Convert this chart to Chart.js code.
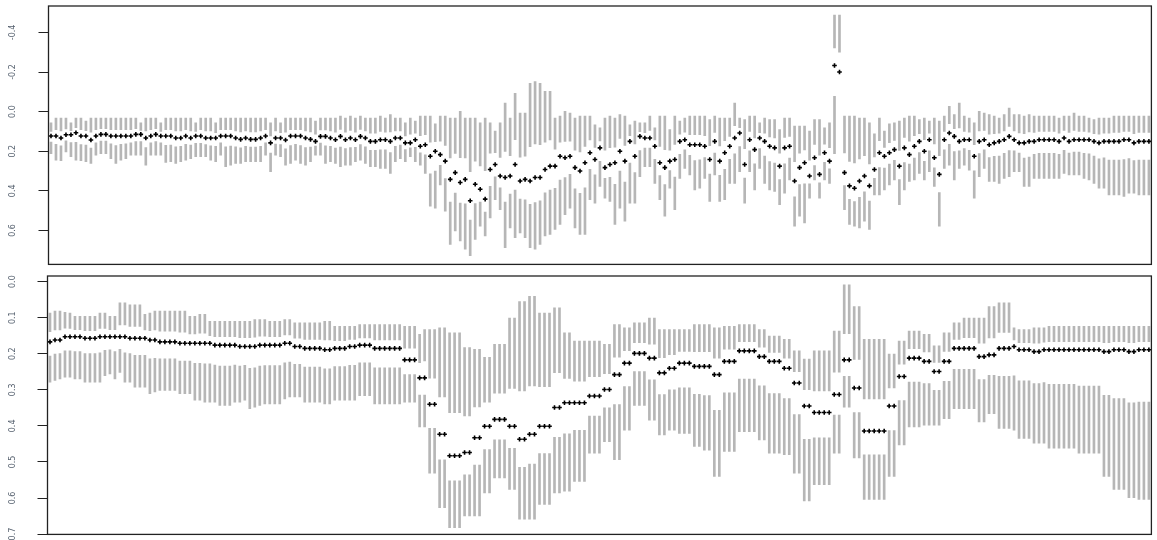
<!DOCTYPE html>
<html>
<head>
<meta charset="utf-8">
<script src="https://cdn.jsdelivr.net/npm/chart.js@4.4.1/dist/chart.umd.min.js"></script>
<style>
  html, body { margin: 0; padding: 0; background: #fff; }
  canvas { display: block; }
</style>
</head>
<body>
<canvas id="top-panel" width="1157" height="270"></canvas>
<canvas id="bottom-panel" width="1157" height="270"></canvas>
<script>
// upper panel: estimate with outer interval (hi = upper end, lo = lower end; axis is reversed)
const topEst = [
  0.123,0.123,0.133,0.117,0.117,0.107,0.123,0.123,0.143,0.123,
  0.115,0.115,0.123,0.123,0.123,0.123,0.123,0.115,0.115,0.133,
  0.123,0.115,0.123,0.123,0.123,0.133,0.133,0.123,0.133,0.123,
  0.123,0.133,0.133,0.133,0.123,0.123,0.123,0.133,0.14,0.133,
  0.14,0.14,0.133,0.123,0.158,0.133,0.133,0.143,0.123,0.123,
  0.123,0.133,0.14,0.15,0.125,0.125,0.133,0.142,0.125,0.142,
  0.133,0.142,0.125,0.133,0.15,0.15,0.142,0.142,0.15,0.133,
  0.133,0.158,0.158,0.142,0.175,0.167,0.225,0.2,0.217,0.25,
  0.342,0.308,0.358,0.342,0.45,0.367,0.392,0.442,0.292,0.267,
  0.325,0.333,0.325,0.267,0.35,0.342,0.35,0.333,0.333,0.292,
  0.275,0.275,0.225,0.233,0.225,0.283,0.3,0.258,0.208,0.242,
  0.183,0.283,0.267,0.258,0.2,0.25,0.15,0.225,0.125,0.133,
  0.133,0.175,0.258,0.283,0.25,0.242,0.15,0.142,0.167,0.167,
  0.167,0.175,0.242,0.15,0.25,0.208,0.175,0.133,0.108,0.267,
  0.142,0.192,0.133,0.15,0.175,0.183,0.275,0.183,0.175,0.35,
  0.283,0.258,0.325,0.233,0.317,0.208,0.25,-0.233,-0.2,0.308,
  0.375,0.387,0.35,0.325,0.375,0.292,0.208,0.225,0.208,0.192,
  0.275,0.183,0.217,0.175,0.15,0.2,0.142,0.233,0.317,0.142,
  0.108,0.125,0.15,0.142,0.142,0.225,0.15,0.142,0.167,0.158,
  0.15,0.142,0.125,0.142,0.158,0.158,0.15,0.15,0.142,0.142,
  0.142,0.142,0.15,0.133,0.15,0.142,0.142,0.142,0.142,0.15,
  0.158,0.15,0.15,0.15,0.15,0.142,0.142,0.158,0.15,0.15,0.15
];
const topHi = [
  0.057,0.032,0.032,0.032,0.057,0.032,0.032,0.048,0.032,0.032,
  0.032,0.032,0.032,0.032,0.032,0.032,0.032,0.032,0.057,0.032,
  0.032,0.032,0.057,0.032,0.032,0.032,0.032,0.032,0.032,0.057,
  0.032,0.032,0.032,0.057,0.032,0.032,0.032,0.032,0.032,0.032,
  0.032,0.032,0.032,0.032,0.057,0.032,0.057,0.032,0.032,0.032,
  0.032,0.032,0.032,0.048,0.032,0.032,0.032,0.032,0.023,0.032,
  0.023,0.032,0.023,0.032,0.032,0.032,0.023,0.032,0.015,0.032,
  0.032,0.057,0.032,0.048,0.023,0.023,0.023,0.062,0.023,0.023,
  0.032,0.032,-0.002,0.032,0.032,0.032,0.057,0.032,0.057,0.098,
  0.057,-0.043,0.032,-0.093,0.007,0.007,-0.143,-0.152,-0.143,-0.102,
  -0.102,0.032,0.023,-0.002,0.007,0.032,0.023,0.023,0.023,0.067,
  0.082,0.032,0.023,0.032,0.015,0.023,0.067,0.048,0.057,0.057,
  0.023,0.082,0.023,0.023,0.09,0.023,0.048,0.032,0.023,0.023,
  0.023,0.023,0.04,0.023,0.032,0.032,0.032,-0.043,0.032,0.04,
  0.023,0.023,0.057,0.032,0.04,0.04,0.09,0.032,0.032,0.073,
  0.073,0.073,0.098,0.04,0.04,0.082,0.057,-0.488,-0.488,0.023,
  0.023,0.023,0.032,0.032,0.057,0.112,0.032,0.098,0.062,0.057,
  0.048,0.032,0.023,0.023,0.04,0.032,0.048,0.032,0.048,0.023,
  -0.027,0.015,-0.043,0.023,0.032,0.057,-0.002,0.007,0.015,0.023,
  0.032,0.015,-0.018,0.015,0.015,0.023,0.015,0.023,0.023,0.023,
  0.023,0.023,0.032,0.023,0.023,0.007,0.023,0.023,0.032,0.04,
  0.032,0.032,0.032,0.023,0.023,0.023,0.023,0.023,0.023,0.023,0.023
];
const topLo = [
  0.212,0.245,0.248,0.203,0.228,0.245,0.248,0.253,0.262,0.22,
  0.212,0.212,0.237,0.262,0.245,0.237,0.22,0.22,0.22,0.27,
  0.22,0.22,0.22,0.257,0.253,0.262,0.253,0.245,0.237,0.228,
  0.228,0.228,0.245,0.253,0.22,0.278,0.27,0.262,0.262,0.253,
  0.253,0.253,0.253,0.22,0.303,0.22,0.228,0.27,0.262,0.245,
  0.262,0.27,0.253,0.22,0.22,0.262,0.253,0.262,0.278,0.27,
  0.27,0.253,0.245,0.262,0.278,0.278,0.287,0.287,0.312,0.253,
  0.237,0.253,0.228,0.253,0.27,0.312,0.478,0.487,0.37,0.503,
  0.67,0.603,0.653,0.695,0.728,0.645,0.578,0.628,0.537,0.445,
  0.495,0.687,0.587,0.637,0.612,0.637,0.687,0.695,0.67,0.628,
  0.62,0.595,0.57,0.52,0.487,0.587,0.62,0.62,0.445,0.462,
  0.378,0.437,0.453,0.57,0.487,0.553,0.462,0.462,0.328,0.278,
  0.278,0.362,0.445,0.528,0.387,0.495,0.337,0.287,0.32,0.395,
  0.387,0.337,0.453,0.32,0.453,0.445,0.362,0.362,0.303,0.462,
  0.303,0.395,0.287,0.362,0.395,0.403,0.47,0.412,0.345,0.578,
  0.528,0.562,0.437,0.345,0.437,0.345,0.362,0.212,-0.2,0.495,
  0.57,0.578,0.587,0.553,0.595,0.42,0.42,0.395,0.37,0.345,
  0.47,0.395,0.353,0.345,0.312,0.345,0.303,0.378,0.578,0.287,
  0.27,0.345,0.287,0.27,0.295,0.437,0.328,0.287,0.353,0.353,
  0.362,0.337,0.328,0.303,0.303,0.378,0.378,0.337,0.337,0.337,
  0.337,0.337,0.337,0.312,0.32,0.32,0.32,0.337,0.345,0.362,
  0.387,0.387,0.42,0.42,0.42,0.428,0.412,0.412,0.42,0.42,0.42
];

// lower panel
const botEst = [
  0.167,0.162,0.162,0.153,0.153,0.153,0.153,0.157,0.157,0.157,
  0.153,0.153,0.153,0.153,0.153,0.153,0.157,0.157,0.157,0.157,
  0.162,0.162,0.167,0.167,0.167,0.167,0.171,0.171,0.171,0.171,
  0.171,0.171,0.171,0.176,0.176,0.176,0.176,0.176,0.18,0.18,
  0.18,0.18,0.176,0.176,0.176,0.176,0.176,0.171,0.171,0.18,
  0.18,0.185,0.185,0.185,0.185,0.189,0.189,0.185,0.185,0.185,
  0.18,0.18,0.176,0.176,0.176,0.185,0.185,0.185,0.185,0.185,
  0.185,0.217,0.217,0.217,0.267,0.267,0.34,0.34,0.423,0.423,
  0.483,0.483,0.483,0.474,0.474,0.433,0.433,0.401,0.401,0.382,
  0.382,0.382,0.401,0.401,0.437,0.437,0.423,0.423,0.401,0.401,
  0.401,0.349,0.349,0.336,0.336,0.336,0.336,0.336,0.317,0.317,
  0.317,0.299,0.299,0.258,0.258,0.226,0.226,0.199,0.199,0.199,
  0.212,0.212,0.253,0.253,0.24,0.24,0.226,0.226,0.226,0.235,
  0.235,0.235,0.235,0.258,0.258,0.221,0.221,0.221,0.192,0.192,
  0.192,0.192,0.208,0.208,0.221,0.221,0.221,0.24,0.24,0.281,
  0.281,0.345,0.345,0.363,0.363,0.363,0.363,0.313,0.313,0.217,
  0.217,0.295,0.295,0.414,0.414,0.414,0.414,0.414,0.345,0.345,
  0.263,0.263,0.212,0.212,0.212,0.221,0.221,0.249,0.249,0.221,
  0.221,0.185,0.185,0.185,0.185,0.185,0.208,0.208,0.203,0.203,
  0.185,0.185,0.185,0.18,0.189,0.189,0.189,0.194,0.194,0.189,
  0.189,0.189,0.189,0.189,0.189,0.189,0.189,0.189,0.189,0.189,
  0.189,0.194,0.194,0.189,0.189,0.189,0.194,0.194,0.189,0.189,0.189
];
const botHi = [
  0.087,0.082,0.082,0.085,0.087,0.096,0.096,0.096,0.096,0.096,
  0.087,0.087,0.096,0.096,0.059,0.059,0.064,0.064,0.064,0.091,
  0.087,0.082,0.082,0.082,0.082,0.082,0.082,0.082,0.096,0.096,
  0.091,0.091,0.11,0.11,0.11,0.11,0.11,0.11,0.11,0.11,
  0.11,0.105,0.105,0.105,0.11,0.11,0.11,0.105,0.105,0.114,
  0.114,0.114,0.114,0.114,0.114,0.11,0.11,0.124,0.124,0.124,
  0.124,0.124,0.119,0.119,0.119,0.119,0.119,0.119,0.119,0.119,
  0.119,0.124,0.124,0.124,0.146,0.133,0.133,0.133,0.128,0.128,
  0.142,0.142,0.142,0.183,0.183,0.188,0.188,0.21,0.21,0.174,
  0.174,0.174,0.101,0.101,0.055,0.055,0.041,0.041,0.087,0.087,
  0.087,0.073,0.073,0.142,0.142,0.165,0.165,0.165,0.165,0.165,
  0.165,0.174,0.174,0.119,0.119,0.128,0.128,0.114,0.114,0.114,
  0.101,0.101,0.133,0.133,0.133,0.133,0.133,0.133,0.133,0.119,
  0.119,0.119,0.119,0.128,0.128,0.124,0.124,0.124,0.119,0.119,
  0.119,0.119,0.133,0.133,0.151,0.151,0.151,0.16,0.16,0.192,
  0.192,0.215,0.215,0.192,0.192,0.192,0.192,0.137,0.137,0.009,
  0.009,0.069,0.069,0.16,0.16,0.16,0.16,0.16,0.201,0.201,
  0.165,0.165,0.137,0.137,0.137,0.146,0.146,0.178,0.178,0.142,
  0.142,0.114,0.114,0.101,0.101,0.101,0.101,0.101,0.069,0.069,
  0.059,0.059,0.059,0.128,0.133,0.133,0.133,0.128,0.128,0.128,
  0.124,0.124,0.124,0.124,0.124,0.124,0.124,0.124,0.124,0.124,
  0.124,0.124,0.124,0.124,0.124,0.124,0.124,0.124,0.124,0.124,0.124
];
const botLo = [
  0.279,0.274,0.27,0.265,0.265,0.27,0.27,0.279,0.279,0.279,
  0.279,0.261,0.256,0.27,0.252,0.279,0.279,0.293,0.293,0.293,
  0.311,0.306,0.302,0.302,0.302,0.302,0.311,0.311,0.311,0.329,
  0.329,0.334,0.334,0.334,0.343,0.343,0.343,0.334,0.334,0.329,
  0.352,0.348,0.343,0.339,0.339,0.339,0.339,0.325,0.32,0.32,
  0.32,0.334,0.334,0.334,0.334,0.339,0.339,0.329,0.329,0.329,
  0.329,0.329,0.316,0.316,0.316,0.339,0.339,0.339,0.339,0.339,
  0.339,0.334,0.334,0.334,0.403,0.403,0.531,0.531,0.627,0.627,
  0.682,0.682,0.682,0.65,0.65,0.65,0.65,0.586,0.586,0.544,
  0.544,0.544,0.576,0.576,0.659,0.659,0.659,0.659,0.618,0.618,
  0.618,0.586,0.586,0.581,0.581,0.554,0.554,0.554,0.476,0.476,
  0.476,0.444,0.444,0.494,0.494,0.412,0.412,0.343,0.343,0.343,
  0.384,0.384,0.425,0.425,0.412,0.412,0.421,0.421,0.421,0.457,
  0.457,0.467,0.467,0.54,0.54,0.471,0.471,0.471,0.416,0.416,
  0.416,0.416,0.439,0.439,0.476,0.476,0.476,0.48,0.48,0.531,
  0.531,0.608,0.608,0.563,0.563,0.563,0.563,0.476,0.476,0.348,
  0.348,0.489,0.489,0.604,0.604,0.604,0.604,0.604,0.54,0.54,
  0.453,0.453,0.403,0.403,0.403,0.398,0.398,0.398,0.398,0.38,
  0.38,0.352,0.352,0.352,0.352,0.352,0.389,0.389,0.366,0.366,
  0.407,0.407,0.407,0.412,0.435,0.435,0.435,0.448,0.448,0.448,
  0.462,0.462,0.462,0.462,0.462,0.462,0.476,0.476,0.476,0.476,
  0.476,0.54,0.54,0.576,0.576,0.576,0.599,0.599,0.604,0.604,0.604
];

const topTicks = [-0.4, -0.2, 0.0, 0.2, 0.4, 0.6];
const bottomTicks = [0.0, 0.1, 0.2, 0.3, 0.4, 0.5, 0.6, 0.7];

// share of each whisker left blank next to its marker
const GAP = 0.35;

function contextFor(id) {
    return document.getElementById(id).getContext('2d');
}

// box around the plot region and the rotated y labels
const frame = {
    id: 'frame',
    afterDraw(chart) {
        const {ctx, chartArea: a} = chart;
        const y = chart.scales.y;
        ctx.save();
        ctx.strokeStyle = '#222';
        ctx.lineWidth = 1.3;
        ctx.strokeRect(a.left, a.top, a.right - a.left, a.bottom - a.top);
        ctx.fillStyle = '#55606e';
        ctx.font = '8px "DejaVu Sans"';
        ctx.textAlign = 'center';
        ctx.textBaseline = 'middle';
        y.ticks.forEach(t => {
            ctx.save();
            ctx.translate(13, y.getPixelForValue(t.value));
            ctx.rotate(-Math.PI / 2);
            ctx.fillText(t.value.toFixed(1), 0, 0);
            ctx.restore();
        });
        ctx.restore();
    }
};

function ciChart(id, est, hi, lo, ticks, yMin, yMax, axisWidth, padRight) {
    const sites = est.map((v, i) => i + 1);
    return new Chart(contextFor(id), {
        type: 'bar',
        data: {
            labels: sites,
            datasets: [
                {data: est.map((v, i) => [hi[i], v - GAP * (v - hi[i])]), backgroundColor: '#b6b6b6', barThickness: 2, grouped: false, order: 2},
                {data: est.map((v, i) => [v + GAP * (lo[i] - v), lo[i]]), backgroundColor: '#b6b6b6', barThickness: 2, grouped: false, order: 2},
                {type: 'line', data: est, showLine: false, pointStyle: 'cross', pointRadius: 2.3,
                 pointBorderColor: '#000', pointBackgroundColor: '#000', pointBorderWidth: 1.6, order: 1},
            ]
        },
        options: {
            responsive: false,
            animation: false,
            devicePixelRatio: 1,
            events: [],
            layout: {padding: {top: 6, bottom: 3, left: 0, right: padRight}},
            plugins: {legend: {display: false}, tooltip: {enabled: false}},
            scales: {
                x: {display: false, offset: true},
                y: {
                    reverse: true,
                    min: yMin,
                    max: yMax,
                    afterBuildTicks: s => { s.ticks = ticks.map(v => ({value: v})); },
                    afterFit: s => { s.width = axisWidth; },
                    ticks: {display: false},
                    border: {display: false},
                    grid: {drawOnChartArea: false, drawTicks: true, tickLength: 10, color: '#222', lineWidth: 1}
                }
            }
        },
        plugins: [frame]
    });
}

// 221 sites x 5 px = 1105 px wide plot regions
ciChart('top-panel', topEst, topHi, topLo, topTicks, -0.5335, 0.7715, 48.5, 3.5);
ciChart('bottom-panel', botEst, botHi, botLo, bottomTicks, -0.0156, 0.7009, 47.5, 4.5);
</script>
</body>
</html>
